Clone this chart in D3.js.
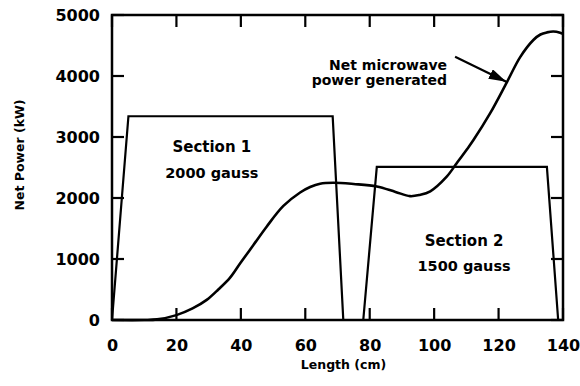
<!DOCTYPE html>
<html>
<head>
<meta charset="utf-8" />
<title>Net Power</title>
<script src="https://cdn.jsdelivr.net/npm/d3@7"></script>
<style>
    html, body { margin: 0; padding: 0; background: #fff; }
    svg text { font-family: "DejaVu Sans", sans-serif; font-weight: bold; fill: #000; }
</style>
</head>
<body>
<script>
// tick labels
var xTicks = [0, 20, 40, 60, 80, 100, 120, 140];
var yTicks = [0, 1000, 2000, 3000, 4000, 5000];

// magnetic field sections (outline of each section), cm / kW
var section1X = [0, 5.1, 68.5, 71.8];
var section1Y = [0, 3340, 3340, 0];
var section2X = [78, 82.2, 135, 138.5];
var section2Y = [0, 2510, 2510, 0];

// net microwave power generated
var powerX = [0, 10, 14, 20, 25, 29.4, 33, 36.6, 39.8, 43.9, 48, 53.2, 58.4, 61.5, 64.6, 68.7, 75, 82.2, 88, 92.5, 95.5, 98.8, 103.9, 107, 110.2, 112.2, 117.4, 122.6, 126.7, 130.8, 133, 135, 137, 139.1, 140];
var powerY = [0, 0, 10, 80, 190, 330, 500, 690, 930, 1230, 1530, 1870, 2090, 2180, 2235, 2250, 2230, 2190, 2100, 2030, 2050, 2110, 2350, 2570, 2800, 2950, 3390, 3900, 4310, 4590, 4680, 4715, 4730, 4710, 4690];

var width = 580, height = 386;
var mLeft = 112, mRight = 563, mTop = 15, mBottom = 320;
var tickLen = 12;

var svg = d3.select('body').append('svg').attr('width', width).attr('height', height);

var x = d3.scaleLinear().domain([0, 140]).range([mLeft, mRight]);
var y = d3.scaleLinear().domain([0, 5000]).range([mBottom, mTop]);

function pts(xs, ys) {
    return xs.map(function(d, i) { return [d, ys[i]]; });
}

var line = d3.line().x(function(d) { return x(d[0]); }).y(function(d) { return y(d[1]); });
var smooth = d3.line().curve(d3.curveCatmullRom.alpha(0.5)).x(function(d) { return x(d[0]); }).y(function(d) { return y(d[1]); });

// tick labels from the axes
var gx = svg.append('g').attr('transform', 'translate(0,' + mBottom + ')')
    .call(d3.axisBottom(x).tickValues(xTicks).tickSize(0).tickPadding(20));
var gy = svg.append('g').attr('transform', 'translate(' + mLeft + ',0)')
    .call(d3.axisLeft(y).tickValues(yTicks).tickSize(0).tickPadding(12).tickFormat(d3.format('d')));
[gx, gy].forEach(function(g) {
    g.select('.domain').remove();
    g.selectAll('text').attr('font-size', 16).attr('font-family', '"DejaVu Sans", sans-serif');
});

// inward tick marks on all four sides
var ticks = svg.append('g');
ticks.selectAll('.xb').data(xTicks).enter().append('path').attr('class', 'xb')
    .attr('d', function(t) { return 'M' + x(t) + ',' + mBottom + 'V' + (mBottom - tickLen); });
ticks.selectAll('.xt').data(xTicks).enter().append('path').attr('class', 'xt')
    .attr('d', function(t) { return 'M' + x(t) + ',' + mTop + 'V' + (mTop + tickLen); });
ticks.selectAll('.yl').data(yTicks).enter().append('path').attr('class', 'yl')
    .attr('d', function(t) { return 'M' + mLeft + ',' + y(t) + 'H' + (mLeft + tickLen); });
ticks.selectAll('.yr').data(yTicks).enter().append('path').attr('class', 'yr')
    .attr('d', function(t) { return 'M' + mRight + ',' + y(t) + 'H' + (mRight - tickLen); });
ticks.selectAll('path').attr('fill', 'none').attr('stroke', '#000').attr('stroke-width', 2.2);

svg.append('rect')
    .attr('x', mLeft).attr('y', mTop)
    .attr('width', mRight - mLeft).attr('height', mBottom - mTop)
    .attr('fill', 'none').attr('stroke', '#000').attr('stroke-width', 2.5);

// section outlines
svg.append('path').attr('d', line(pts(section1X, section1Y)))
    .attr('fill', 'none').attr('stroke', '#000').attr('stroke-width', 2.2);
svg.append('path').attr('d', line(pts(section2X, section2Y)))
    .attr('fill', 'none').attr('stroke', '#000').attr('stroke-width', 2.2);

// power curve
svg.append('path').attr('d', smooth(pts(powerX, powerY)))
    .attr('fill', 'none').attr('stroke', '#000').attr('stroke-width', 2.6);

// annotations
function label(t, cx, cy, anchor, size) {
    svg.append('text').attr('x', x(cx)).attr('y', y(cy))
        .attr('text-anchor', anchor || 'middle').attr('font-size', size || 14).text(t);
}
label('Section 1', 31, 2754, 'middle', 15);
label('2000 gauss', 31, 2328, 'middle', 14.5);
label('Section 2', 109.3, 1213, 'middle', 15);
label('1500 gauss', 109.3, 803, 'middle', 14.5);
label('Net microwave', 104, 4098, 'end', 14);
label('power generated', 104, 3852, 'end', 14);

// arrow to the curve
var defs = svg.append('defs');
defs.append('marker').attr('id', 'arrow')
    .attr('viewBox', '0 0 10 6').attr('refX', 10).attr('refY', 3)
    .attr('markerWidth', 8).attr('markerHeight', 4.8).attr('orient', 'auto')
    .attr('markerUnits', 'strokeWidth')
    .append('path').attr('d', 'M0,0L10,3L0,6z').attr('fill', '#000');
svg.append('line')
    .attr('x1', x(106.5)).attr('y1', y(4316))
    .attr('x2', x(122.4)).attr('y2', y(3905))
    .attr('stroke', '#000').attr('stroke-width', 2.2)
    .attr('marker-end', 'url(#arrow)');

// axis titles
svg.append('text').attr('x', (mLeft + mRight) / 2 + 6).attr('y', 369)
    .attr('text-anchor', 'middle').attr('font-size', 12.5).text('Length (cm)');
svg.append('text').attr('transform', 'translate(24,155) rotate(-90)')
    .attr('text-anchor', 'middle').attr('font-size', 12.5).text('Net Power (kW)');
</script>
</body>
</html>
